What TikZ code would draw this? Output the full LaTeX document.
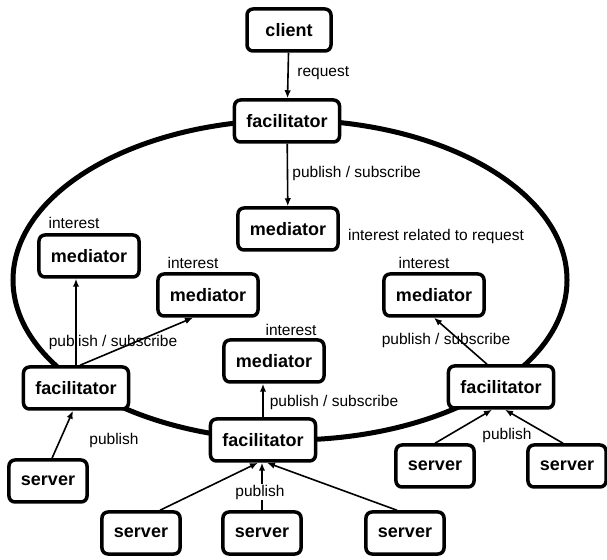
\documentclass[tikz,border=0pt]{standalone}
\usepackage{fontspec}
\setmainfont{Liberation Sans}
\usetikzlibrary{arrows.meta}

\begin{document}
\begin{tikzpicture}[x=1pt,y=1pt,thick]
		\tikzset{box/.style = {draw, line width=3.5pt, rounded corners=6pt, fill=white,
				inner xsep=12pt, minimum height=42pt, font=\fontsize{18}{20}\selectfont\bfseries}}
		\tikzset{lbl/.style = {inner sep=1pt, font=\fontsize{15.5}{17}\selectfont}}
		\tikzset{edge/.style = {draw, line width=1.6pt, -{Latex[length=8pt,width=6.5pt]}}}
		\tikzset{ring/.style = {draw, line width=5pt}}
		\useasboundingbox (0,0) rectangle (607,559);
		
		% ring of facilitators
		\draw[ring] (290,279) ellipse [x radius=277pt, y radius=160pt];
		
		% nodes
		\node[box,minimum width=84pt] (client) at (289,529) {client};
		\node[box] (ft) at (287,438) {facilitator};
		\node[box] (fl) at (76,171) {facilitator};
		\node[box] (fb) at (263,119) {facilitator};
		\node[box] (fr) at (501,172) {facilitator};
		\node[box] (mt) at (288,330) {mediator};
		\node[box] (ml) at (89,303) {mediator};
		\node[box] (m2) at (208,264) {mediator};
		\node[box] (mr) at (434,264) {mediator};
		\node[box] (mc) at (274,198) {mediator};
		\node[box] (sl) at (48,78) {server};
		\node[box] (s1) at (141,26) {server};
		\node[box] (s2) at (262,26) {server};
		\node[box] (s3) at (405,26) {server};
		\node[box] (sa) at (435,93) {server};
		\node[box] (sb) at (567,93) {server};
		
		% labels
		\node[lbl,anchor=west] (req) at (296,486) {request};
		\node[lbl,anchor=west] (pst) at (291,386) {publish / subscribe};
		\node[lbl] (irr) at (436,323) {interest related to request};
		\node[lbl] (il) at (74,336) {interest};
		\node[lbl] (i2) at (193,296) {interest};
		\node[lbl] (ir) at (424,296) {interest};
		\node[lbl] (ic) at (291,229) {interest};
		\node[lbl] (psl) at (113,217) {publish / subscribe};
		\node[lbl] (psr) at (446,219) {publish / subscribe};
		\node[lbl] (psc) at (334,157) {publish / subscribe};
		\node[lbl] (pl) at (114,119) {publish};
		\node[lbl] (pr) at (507,124) {publish};
		
		% edges
		\draw[edge] (client) -- (ft);
		\draw[edge] (ft) -- (mt);
		\draw[edge] (fl.north) -- (fl.north |- ml.south);
		\draw[edge] ([xshift=4pt]fl.north) -- ([xshift=-15pt]m2.south);
		\draw[edge] ([xshift=-14pt]fr.north) -- (mr.south);
		\draw[edge] (fb.north) -- (fb.north |- mc.south);
		\draw[edge] ([xshift=4pt]sl.north) -- ([xshift=-3pt]fl.south);
		\draw[edge] ([xshift=19pt]s1.north) -- ([xshift=-5pt]fb.south);
		\draw[edge] (s2.north) -- (s2.north |- fb.south);
		\draw[edge] ([xshift=-8pt]s3.north) -- ([xshift=4pt]fb.south);
		\draw[edge] (sa.north) -- ([xshift=-9pt]fr.south);
		\draw[edge] ([xshift=-4pt]sb.north) -- ([xshift=4pt]fr.south);
		
		% label on the middle server line
		\node[lbl,fill=white] (pb) at (260,67) {publish};
		\end{tikzpicture}
\end{document}
